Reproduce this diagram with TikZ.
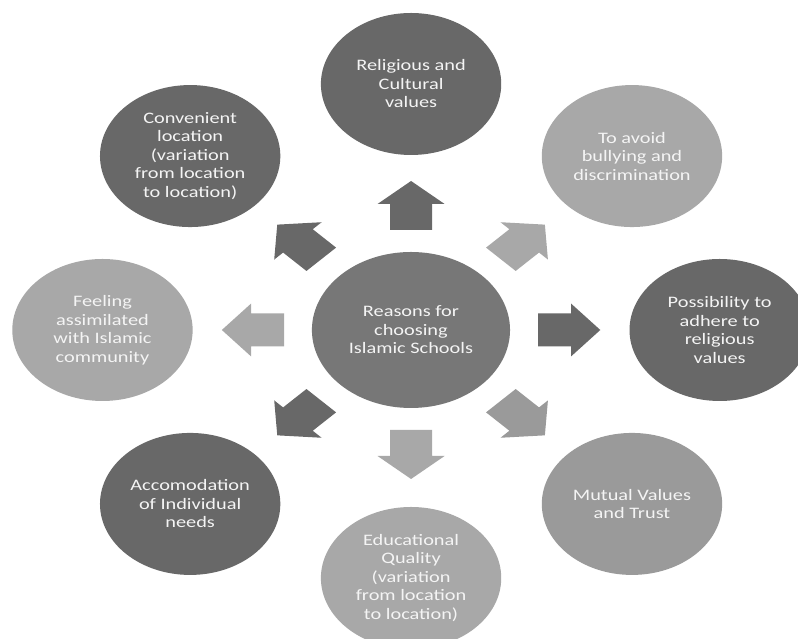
\documentclass[tikz,border=0pt]{standalone}
\usepackage{fontspec}
\setmainfont{Carlito}
\usetikzlibrary{calc}
\definecolor{gdark}{HTML}{686868}
\definecolor{gcenter}{HTML}{777777}
\definecolor{glight}{HTML}{A8A8A8}
\definecolor{gmid}{HTML}{9A9A9A}
\definecolor{gtext}{HTML}{F4F4F4}
\begin{document}
\begin{tikzpicture}[x=1pt,y=1pt,xscale=1.27,
  bubble/.style={circle, minimum size=142pt, inner sep=0pt, align=center,
    text=gtext, font=\fontsize{16}{18.5}\selectfont, transform shape}]
\path[use as bounding box, clip] (0,0) rectangle (628.35,639);
\fill[white] (0,0) rectangle (628.35,639);
\node[bubble, fill=gcenter, minimum size=156pt] (c) at (323.6,309) {Reasons for\\choosing\\Islamic Schools};
\node[bubble, fill=gdark]  (rel)  at ($(c)+(90:246)$)   {Religious and\\Cultural\\values};
\node[bubble, fill=glight] (bul)  at ($(c)+(45:246)$)   {To avoid\\bullying and\\discrimination};
\node[bubble, fill=gdark]  (pos)  at ($(c)+(0:243)$)    {Possibility to\\adhere to\\religious\\values};
\node[bubble, fill=gmid]   (mut)  at ($(c)+(-45:246)$)  {Mutual Values\\and Trust};
\node[bubble, fill=glight] (edu)  at ($(c)+(-90:248)$)  {Educational\\Quality\\(variation\\from location\\to location)};
\node[bubble, fill=gdark]  (acc)  at ($(c)+(-135:246)$) {Accomodation\\of Individual\\needs};
\node[bubble, fill=glight] (feel) at ($(c)+(180:243)$)  {Feeling\\assimilated\\with Islamic\\community};
\node[bubble, fill=gdark]  (conv) at ($(c)+(135:246)$)  {Convenient\\location\\(variation\\from location\\to location)};
\foreach \a/\col in {90/gdark,45/glight,0/gdark,-45/gmid,-90/glight,-135/gdark,180/glight,135/gdark}{
  \begin{scope}[shift={(c)}, rotate=\a]
    \fill[\col] (100,16.5) -- (126,16.5) -- (126,26.4) -- (149,0) -- (126,-26.4) -- (126,-16.5) -- (100,-16.5) -- cycle;
  \end{scope}
}
\end{tikzpicture}
\end{document}
